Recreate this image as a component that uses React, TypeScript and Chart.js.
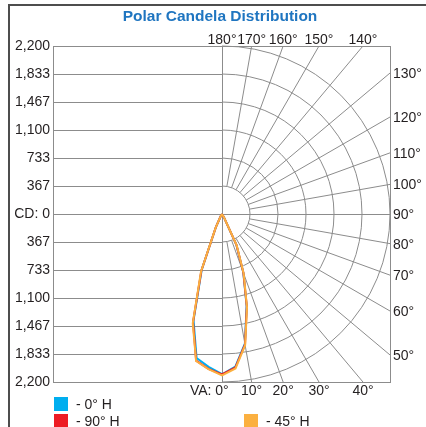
import React, { useEffect, useRef } from 'react';
import { Chart, registerables } from 'chart.js';

Chart.register(...registerables);

// ---------- data ----------
const TITLE = 'Polar Candela Distribution';
const CD_MAX = 2200;
const CD_TICK_LABELS = ['2,200', '1,833', '1,467', '1,100', '733', '367', 'CD: 0', '367', '733', '1,100', '1,467', '1,833', '2,200'];
const VA_ANGLES = [0, 5, 10, 15, 20, 25, 30, 35];
const GRID_ANGLES = [10, 20, 30, 40, 50, 60, 70, 80, 100, 110, 120, 130, 140, 150, 160, 170];
const ANGLE_LABELS = [0, 10, 20, 30, 40, 50, 60, 70, 80, 90, 100, 110, 120, 130, 140, 150, 160, 170, 180];
const SERIES_NAMES = ['- 0° H', '- 90° H', '- 45° H'];
const SERIES_COLORS = ['#00AEEF', '#ED1C24', '#FBB040'];

// candela per vertical angle, left half-plane and right half-plane
const H0_LEFT = [2095, 2010, 1915, 1440, 775, 185, 35, 0];
const H0_RIGHT = [2100, 2005, 1725, 1245, 815, 445, 55, 0];
const H90_LEFT = [2100, 2035, 1950, 1465, 790, 190, 35, 0];
const H90_RIGHT = [2100, 2015, 1735, 1255, 820, 450, 55, 0];
const H45_LEFT = [2115, 2040, 1955, 1480, 805, 196, 40, 0];
const H45_RIGHT = [2115, 2030, 1745, 1265, 830, 458, 60, 0];

// ---------- styles ----------
const FONT = '"Liberation Sans", Arial, sans-serif';
const TEXT_COLOR = '#231f20';
const GRID_COLOR = '#8c8c8c';
const TITLE_COLOR = '#1f75c0';

const CD_TICK_VALUES = CD_TICK_LABELS.map((_, i) => -CD_MAX + (i * CD_MAX) / 6);
const RING_VALUES = CD_TICK_VALUES.filter((v) => v > 0);

const rad = (d: number) => (d * Math.PI) / 180;

function toPoints(left: number[], right: number[]) {
  const pts: { x: number; y: number }[] = [];
  for (let i = VA_ANGLES.length - 1; i >= 0; i--) {
    const a = rad(VA_ANGLES[i]);
    pts.push({ x: -left[i] * Math.sin(a), y: -left[i] * Math.cos(a) });
  }
  for (let i = 0; i < VA_ANGLES.length; i++) {
    const a = rad(VA_ANGLES[i]);
    pts.push({ x: right[i] * Math.sin(a), y: -right[i] * Math.cos(a) });
  }
  return pts;
}

const framePlugin = {
  id: 'frame',
  beforeDraw(chart: any) {
    const { ctx, chartArea: a } = chart;
    ctx.save();
    ctx.fillStyle = '#4d4d4d';
    ctx.fillRect(8, 4, chart.width - 8, 2);
    ctx.fillRect(8, 4, 2, chart.height - 4);
    // title
    ctx.fillStyle = TITLE_COLOR;
    ctx.font = `bold 15.5px ${FONT}`;
    ctx.textAlign = 'center';
    ctx.textBaseline = 'middle';
    ctx.fillText(TITLE, (a.left + a.right) / 2 - 2, 17);
    ctx.restore();
  },
};

const gridPlugin = {
  id: 'polarGrid',
  beforeDatasetsDraw(chart: any) {
    const { ctx, chartArea: a, scales } = chart;
    const xs = scales.x;
    const ys = scales.y;
    const cx = xs.getPixelForValue(0);
    const cy = ys.getPixelForValue(0);
    const P = (r: number, deg: number) => [
      xs.getPixelForValue(r * Math.sin(rad(deg))),
      ys.getPixelForValue(-r * Math.cos(rad(deg))),
    ];
    ctx.save();
    ctx.strokeStyle = GRID_COLOR;
    ctx.lineWidth = 1;
    CD_TICK_VALUES.forEach((v) => {
      const py = Math.round(ys.getPixelForValue(v)) + 0.5;
      ctx.beginPath();
      ctx.moveTo(a.left, py);
      ctx.lineTo(Math.abs(v) < 1e-6 ? a.right : cx, py);
      ctx.stroke();
    });
    ctx.beginPath();
    ctx.moveTo(Math.round(cx) + 0.5, a.top);
    ctx.lineTo(Math.round(cx) + 0.5, a.bottom);
    ctx.stroke();
    ctx.strokeRect(Math.round(a.left) - 0.5, Math.round(a.top) + 0.5, a.right - a.left + 1, a.bottom - a.top);
    RING_VALUES.forEach((r) => {
      const pr = xs.getPixelForValue(r) - cx;
      ctx.beginPath();
      ctx.arc(cx, cy, pr, -Math.PI / 2, Math.PI / 2);
      ctx.stroke();
    });
    ctx.beginPath();
    ctx.rect(a.left, a.top, a.right - a.left + 1, a.bottom - a.top + 1);
    ctx.clip();
    GRID_ANGLES.forEach((d) => {
      const [x1, y1] = P(RING_VALUES[0], d);
      const [x2, y2] = P(CD_MAX * 2, d);
      ctx.beginPath();
      ctx.moveTo(x1, y1);
      ctx.lineTo(x2, y2);
      ctx.stroke();
    });
    ctx.restore();

    ctx.save();
    ctx.fillStyle = TEXT_COLOR;
    ctx.font = `14px ${FONT}`;
    ANGLE_LABELS.forEach((d) => {
      const s = Math.sin(rad(d));
      const c = Math.cos(rad(d));
      const rSide = s > 1e-6 ? CD_MAX / s : Infinity;
      const rTB = Math.abs(c) > 1e-6 ? CD_MAX / Math.abs(c) : Infinity;
      const text = `${d}°`;
      ctx.textBaseline = 'alphabetic';
      if (rSide < rTB - 1e-6) {
        const [, py] = P(rSide, d);
        ctx.textAlign = 'left';
        ctx.fillText(text, a.right + 3, py + 5);
      } else {
        const [px] = P(rTB, d);
        ctx.textAlign = 'center';
        if (c < 0) {
          ctx.fillText(text, px, a.top - 2);
        } else if (d === 0) {
          const w = ctx.measureText(text).width;
          ctx.textAlign = 'right';
          ctx.fillText('VA: ' + text, px + w / 2, a.bottom + 13);
        } else {
          ctx.fillText(text, px, a.bottom + 13);
        }
      }
    });
    ctx.restore();
  },
};

const legendPlugin = {
  id: 'customLegend',
  afterDraw(chart: any) {
    const { ctx, chartArea: a } = chart;
    const slots = [
      [a.left, a.bottom + 15],
      [a.left, a.bottom + 32],
      [a.left + 190, a.bottom + 32],
    ];
    ctx.save();
    ctx.font = `14px ${FONT}`;
    ctx.textBaseline = 'middle';
    ctx.textAlign = 'left';
    SERIES_NAMES.forEach((name, i) => {
      const [lx, ly] = slots[i];
      ctx.fillStyle = SERIES_COLORS[i];
      ctx.fillRect(lx, ly, 14, 14);
      ctx.fillStyle = TEXT_COLOR;
      ctx.fillText(name, lx + 22, ly + 8);
    });
    ctx.restore();
  },
};

export default function App() {
  const ref = useRef<HTMLCanvasElement | null>(null);

  useEffect(() => {
    if (!ref.current) return;
    const ds = (i: number, pts: { x: number; y: number }[]) => ({
      label: SERIES_NAMES[i],
      data: pts,
      showLine: true,
      borderColor: SERIES_COLORS[i],
      backgroundColor: SERIES_COLORS[i],
      borderWidth: 2,
      pointRadius: 0,
      fill: false,
      tension: 0,
    });
    const chart = new Chart(ref.current, {
      type: 'scatter',
      data: {
        datasets: [
          ds(2, toPoints(H45_LEFT, H45_RIGHT)),
          ds(1, toPoints(H90_LEFT, H90_RIGHT)),
          ds(0, toPoints(H0_LEFT, H0_RIGHT)),
        ],
      },
      options: {
        responsive: false,
        animation: false,
        devicePixelRatio: 1,
        layout: { padding: { top: 46, right: 36, bottom: 45, left: 0 } },
        plugins: {
          legend: { display: false },
          tooltip: { enabled: false },
          title: { display: false },
        },
        scales: {
          x: { type: 'linear', display: false, min: -CD_MAX, max: CD_MAX },
          y: {
            type: 'linear',
            position: 'left',
            min: -CD_MAX,
            max: CD_MAX,
            grid: { display: false, drawTicks: false },
            border: { display: false },
            afterFit: (s: any) => {
              s.width = 54;
            },
            afterBuildTicks: (s: any) => {
              s.ticks = CD_TICK_VALUES.map((v) => ({ value: v }));
            },
            ticks: {
              autoSkip: false,
              padding: 4,
              color: TEXT_COLOR,
              font: { family: FONT, size: 14 },
              callback: (_v: any, i: number) => CD_TICK_LABELS[CD_TICK_LABELS.length - 1 - i],
            },
          },
        },
      } as any,
      plugins: [framePlugin, gridPlugin, legendPlugin],
    });
    return () => chart.destroy();
  }, []);

  return (
    <div style={{ position: 'fixed', left: 0, top: 0, width: 426, height: 427, background: '#fff' }}>
      <canvas ref={ref} width={426} height={427} style={{ display: 'block' }} />
    </div>
  );
}
